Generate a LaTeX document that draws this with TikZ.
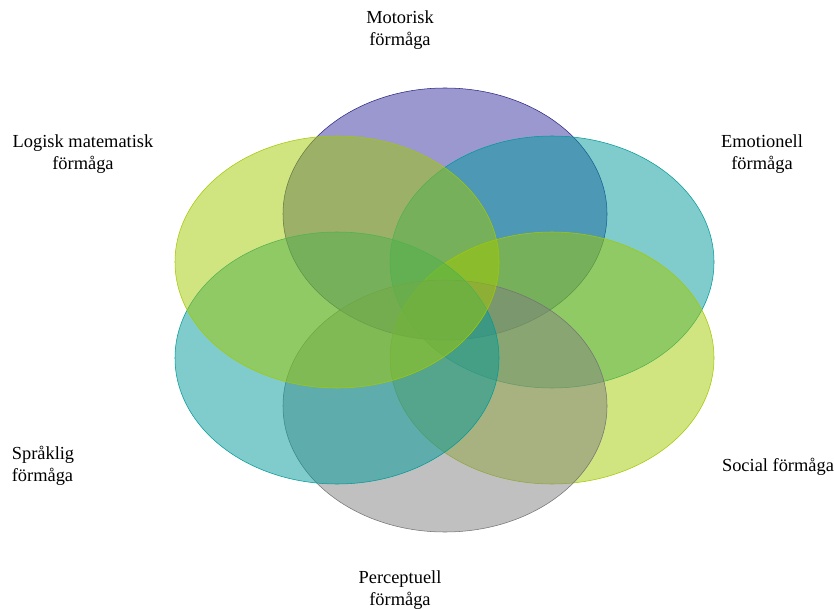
\documentclass[tikz,border=0pt]{standalone}
\usepackage{fontspec}
\setmainfont{Liberation Serif}
\usetikzlibrary{shapes.geometric}
\definecolor{motorc}{RGB}{55,49,161}
\definecolor{tealc}{RGB}{1,153,153}
\definecolor{limec}{RGB}{161,201,1}
\definecolor{grayc}{RGB}{129,129,129}

\begin{document}
\begin{tikzpicture}[x=0.75pt,y=-0.75pt,
blob/.style = {ellipse, draw, inner sep=0pt, minimum width=243pt,
  minimum height=189pt, fill opacity=0.5, draw opacity=1},
label/.style = {align=center, font=\fontsize{13.8}{16.5}\selectfont}]
\useasboundingbox (0,0) rectangle (834,609);
\node[blob, fill=motorc, draw=motorc!80!black] (motorisk) at (445,214) {};
\node[blob, fill=tealc, draw=tealc] (emotionell) at (552,262) {};
\node[blob, fill=limec, draw=limec] (social) at (552,358) {};
\node[blob, fill=grayc, draw=grayc!90!black] (perceptuell) at (445,406) {};
\node[blob, fill=tealc, draw=tealc] (spraklig) at (337,358) {};
\node[blob, fill=limec, draw=limec] (logisk) at (337,262) {};
% labels
\node[label] (motoriskL) at (400,30) {Motorisk\\förmåga};
\node[label] (emotionellL) at (762,154) {Emotionell\\förmåga};
\node[label] (socialL) at (778,467) {Social förmåga};
\node[label] (perceptuellL) at (400,590) {Perceptuell\\förmåga};
\node[label, align=left] (sprakligL) at (43,466) {Språklig\\förmåga};
\node[label] (logiskL) at (83,154) {Logisk matematisk\\förmåga};
\end{tikzpicture}
\end{document}
